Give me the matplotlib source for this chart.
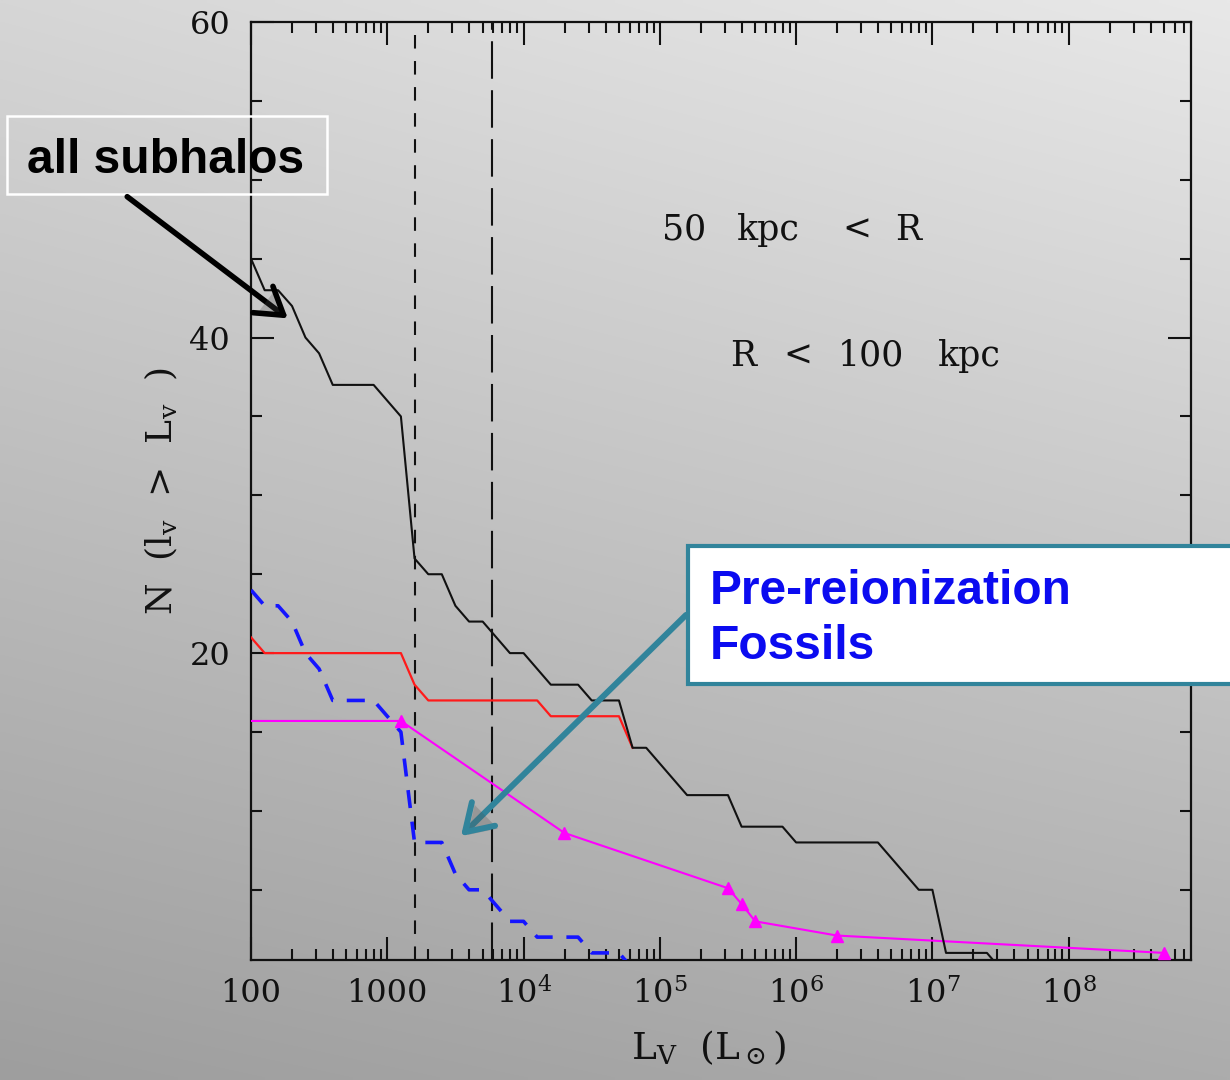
import numpy as np
import matplotlib
matplotlib.use("Agg")
import matplotlib.pyplot as plt
import matplotlib.patheffects as pe
from matplotlib.patches import Rectangle, FancyArrowPatch
from matplotlib.ticker import FixedLocator, FuncFormatter, LogLocator, MultipleLocator

# ---------------- data ----------------
black_L = [100, 126, 158, 200, 251, 316, 398, 794, 1259, 1585, 2000, 2512, 3162, 3981,
           5012, 7943, 10000, 15849, 25119, 31623, 50119, 63096, 79433, 158489, 316228,
           398107, 794328, 1000000, 3981072, 7943282, 10000000, 12589254, 25118864, 31622777]
black_N = [45, 43, 43, 42, 40, 39, 37, 37, 35, 26, 25, 25, 23, 22,
           22, 20, 20, 18, 18, 17, 17, 14, 14, 11, 11,
           9, 9, 8, 8, 5, 5, 1, 1, 0]

red_L = [100, 126, 1259, 1585, 2000, 12589, 15849, 50119, 63096]
red_N = [21, 20, 20, 18, 17, 17, 16, 16, 14]

blue_L = [100, 126, 158, 200, 251, 316, 398, 794, 1000, 1259, 1585, 2512, 3162, 3981,
          5012, 6310, 7943, 10000, 12589, 25119, 31623, 50119, 63096]
blue_N = [24, 23, 23, 22, 20, 19, 17, 17, 16, 15, 8, 8, 6, 5,
          5, 4, 3, 3, 2, 2, 1, 1, 0]

mag_L = [100, 1259, 19953, 316228, 398107, 501187, 1995262, 501187234]
mag_N = [15.7, 15.7, 8.6, 5.1, 4.1, 3.0, 2.1, 1.0]

vlines_short = [1610]
vlines_long = [5830]

xtick_vals = [1e2, 1e3, 1e4, 1e5, 1e6, 1e7, 1e8]
xtick_labels = ["100", "1000", r"$10^{4}$", r"$10^{5}$", r"$10^{6}$", r"$10^{7}$", r"$10^{8}$"]

region_line1 = [("50", 662), ("kpc", 737), ("<", 842), ("R", 895)]
region_line2 = [("R", 730), ("<", 783), ("100", 838), ("kpc", 938)]

W, H = 1230, 1080
plt.rcParams['font.family'] = ['DejaVu Serif']
plt.rcParams['mathtext.fontset'] = 'dejavuserif'

fig = plt.figure(figsize=(W / 100, H / 100), dpi=100)

def fx(px):
    return px / W

def fy(py):
    return 1 - py / H

# background gradient
bg = fig.add_axes([0, 0, 1, 1], zorder=-5)
yy, xx = np.mgrid[0:1:200j, 0:1:200j]
tl, tr, bl, br = 214, 232, 158, 172
val = (tl * (1 - xx) * (1 - yy) + tr * xx * (1 - yy) + bl * (1 - xx) * yy + br * xx * yy) / 255.0
bg.imshow(np.dstack([val, val, val]), aspect='auto', extent=[0, 1, 0, 1], origin='upper',
          interpolation='bilinear')
bg.set_axis_off()

ax = fig.add_axes([fx(251), fy(960), (1191 - 251) / W, (960 - 22) / H])
ax.set_facecolor('none')
ax.set_xscale('log')
ax.set_xlim(100, 7.9e8)
ax.set_ylim(0.55, 60)

for v in vlines_short:
    ax.axvline(v, color='#111111', lw=1.5, dashes=(6.5, 6), zorder=2)
for v in vlines_long:
    ax.axvline(v, color='#111111', lw=1.5, dashes=(18, 5.5), zorder=2)

ax.plot(red_L, red_N, color='#ff1a1a', lw=1.6, zorder=3)
ax.plot(blue_L, blue_N, color='#1515ff', lw=2.6, dashes=(5, 3.8), zorder=3)
ax.plot(mag_L, mag_N, color='#ff00ff', lw=1.5, marker='^', ms=8, markevery=list(range(1, len(mag_L))),
        zorder=4)
ax.plot(black_L, black_N, color='#111111', lw=1.5, zorder=5)

# axes styling
for s in ax.spines.values():
    s.set_linewidth(1.6)
    s.set_color('#111111')
ax.xaxis.set_major_locator(FixedLocator(xtick_vals))
ax.xaxis.set_major_formatter(FuncFormatter(lambda v, p: xtick_labels[xtick_vals.index(v)] if v in xtick_vals else ""))
ax.xaxis.set_minor_locator(LogLocator(base=10, subs=np.arange(2, 10), numticks=30))
ax.xaxis.set_minor_formatter(FuncFormatter(lambda v, p: ""))
ax.yaxis.set_major_locator(FixedLocator([20, 40, 60]))
ax.yaxis.set_minor_locator(MultipleLocator(5))
ax.tick_params(which='both', direction='in', top=True, right=True, width=1.5, colors='#111111')
ax.tick_params(which='major', length=16.5, labelsize=23)
ax.tick_params(which='minor', length=8)
ax.tick_params(axis='x', which='major', pad=13)
ax.tick_params(axis='y', which='major', pad=15)

ax.set_xlabel(r'L$_\mathrm{V}$  (L$_\odot$)', fontsize=27, color='#111111')
ax.set_ylabel(r'N  (l$_\mathrm{v}$  >  L$_\mathrm{v}$  )', fontsize=26, color='#111111')
ax.xaxis.set_label_coords(0.487, -0.073)
ax.yaxis.set_label_coords(-0.076, 0.5)

# region text
for word, px in region_line1:
    fig.text(fx(px), fy(240), word, fontsize=25, color='#111111', ha='left', va='baseline')
for word, px in region_line2:
    fig.text(fx(px), fy(366), word, fontsize=25, color='#111111', ha='left', va='baseline')

shadow = [pe.SimplePatchShadow(offset=(2, -2), alpha=0.25), pe.Normal()]

# "all subhalos" callout
fig.add_artist(Rectangle((fx(7), fy(194)), (327 - 7) / W, (194 - 116) / H, transform=fig.transFigure,
                         facecolor='none', edgecolor='white', lw=1.8, zorder=10))
fig.text(fx(27), fy(173), "all subhalos", fontsize=34.5, fontweight='bold', family='Liberation Sans',
         color='black', ha='left', va='baseline', zorder=11)
fig.add_artist(FancyArrowPatch((fx(125), fy(195)), (fx(290), fy(320)), transform=fig.transFigure,
                               arrowstyle='->,head_length=0.55,head_width=0.35', mutation_scale=34,
                               color='black', lw=4, zorder=11, capstyle='round', joinstyle='round',
                               path_effects=shadow))

# "Pre-reionization Fossils" callout
fig.add_artist(Rectangle((fx(688), fy(684)), 700 / W, (684 - 546) / H, transform=fig.transFigure,
                         facecolor='white', edgecolor='#31849b', lw=3, zorder=10))
fig.text(fx(710), fy(604), "Pre-reionization", fontsize=34.5, fontweight='bold', family='Liberation Sans',
         color='#0b0bf0', ha='left', va='baseline', zorder=11)
fig.text(fx(710), fy(659), "Fossils", fontsize=34.5, fontweight='bold', family='Liberation Sans',
         color='#0b0bf0', ha='left', va='baseline', zorder=11)
fig.add_artist(FancyArrowPatch((fx(688), fy(613)), (fx(459), fy(838)), transform=fig.transFigure,
                               arrowstyle='->,head_length=0.55,head_width=0.35', mutation_scale=34,
                               color='#31849b', lw=4.3, zorder=11, capstyle='round', joinstyle='round',
                               path_effects=shadow))

fig.savefig("out.png", dpi=100)
